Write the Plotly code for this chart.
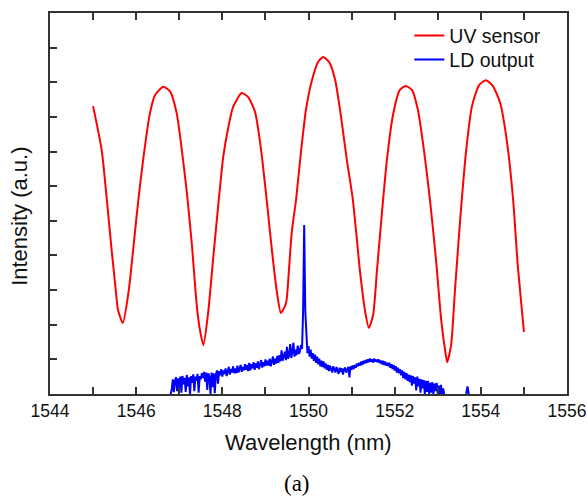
import plotly.graph_objects as go

# UV sensor (red) spectrum: wavelength (nm) and intensity (a.u.)
uv_wl = [1545.00, 1545.20, 1545.32, 1545.43, 1545.51, 1545.58, 1545.69, 1545.82, 1545.93, 1546.05,
         1546.17, 1546.32, 1546.44, 1546.63, 1546.79, 1546.94, 1547.06, 1547.17, 1547.29, 1547.41,
         1547.48, 1547.56, 1547.67, 1547.79, 1547.91, 1548.02, 1548.14, 1548.25, 1548.45, 1548.60,
         1548.76, 1548.90, 1549.03, 1549.15, 1549.26, 1549.36, 1549.48, 1549.53, 1549.61, 1549.71,
         1549.83, 1549.94, 1550.08, 1550.22, 1550.34, 1550.48, 1550.62, 1550.75, 1550.89, 1551.03,
         1551.20, 1551.31, 1551.40, 1551.50, 1551.59, 1551.71, 1551.82, 1551.96, 1552.12, 1552.26,
         1552.40, 1552.54, 1552.68, 1552.82, 1552.96, 1553.08, 1553.17, 1553.22, 1553.31, 1553.40,
         1553.52, 1553.66, 1553.80, 1553.96, 1554.12, 1554.28, 1554.45, 1554.61, 1554.75, 1554.86,
         1555.00]
uv_int = [8.31, 7.04, 5.60, 4.16, 3.20, 2.42, 2.05, 2.92, 4.16, 5.60,
          6.84, 8.11, 8.63, 8.87, 8.73, 8.11, 7.04, 5.89, 4.36, 2.51,
          1.85, 1.41, 2.34, 3.95, 5.51, 6.84, 7.71, 8.29, 8.69, 8.57,
          8.14, 7.04, 5.60, 4.16, 3.00, 2.34, 2.63, 3.29, 4.65, 5.60,
          7.04, 8.20, 9.06, 9.58, 9.73, 9.58, 9.06, 8.05, 6.76, 5.60,
          3.49, 2.42, 1.91, 2.28, 3.58, 5.31, 6.76, 8.05, 8.78, 8.89,
          8.78, 8.20, 7.04, 5.60, 3.87, 2.14, 1.27, 0.92, 1.41, 3.00,
          5.02, 7.04, 8.34, 8.92, 9.06, 8.89, 8.40, 7.25, 5.60, 3.67,
          1.79]

# LD output (blue) spectrum, sampled every 0.025 nm from 1546.800 nm
ld_start = 1546.80
ld_step = 0.025
ld_int = [
    0.00, 0.12, 0.42, 0.05, 0.38, 0.48, 0.08, 0.45, 0.18, 0.50,
    0.04, 0.52, 0.28, 0.47, 0.06, 0.55, 0.22, 0.48, 0.00, 0.52,
    0.32, 0.57, 0.08, 0.50, 0.38, 0.58, 0.04, 0.52, 0.42, 0.60,
    0.46, 0.64, 0.36, 0.62, 0.12, 0.60, 0.50, 0.00, 0.62, 0.20,
    0.60, 0.02, 0.56, 0.68, 0.30, 0.66, 0.54, 0.72, 0.50, 0.68,
    0.58, 0.74, 0.52, 0.70, 0.78, 0.56, 0.72, 0.62, 0.80, 0.60,
    0.74, 0.60, 0.82, 0.62, 0.76, 0.84, 0.64, 0.78, 0.68, 0.86,
    0.70, 0.84, 0.66, 0.90, 0.68, 0.86, 0.74, 0.92, 0.70, 0.88,
    0.76, 0.94, 0.72, 0.90, 0.98, 0.76, 0.92, 0.80, 1.00, 0.82,
    0.96, 0.82, 1.02, 0.80, 0.98, 1.08, 0.84, 1.02, 0.88, 1.10,
    0.90, 1.12, 0.94, 1.26, 0.96, 1.10, 1.22, 0.98, 1.36, 1.02,
    1.12, 1.44, 1.04, 1.22, 1.48, 1.08, 1.28, 1.12, 1.40, 1.16,
    1.22, 1.42, 1.30, 2.40,
    4.88,
    2.40, 1.55, 1.18, 1.38, 1.08, 1.28, 1.02,
    1.18, 0.96, 1.14, 0.90, 1.08, 0.86, 1.02, 0.80, 0.96, 0.78,
    0.94, 0.74, 0.88, 0.70, 0.84, 0.66, 0.82, 0.72, 0.62, 0.80,
    0.70, 0.62, 0.78, 0.66, 0.58, 0.76, 0.64, 0.74, 0.56, 0.72,
    0.76, 0.62, 0.74, 0.78, 0.48, 0.80, 0.70, 0.82, 0.72, 0.84,
    0.76, 0.88, 0.80, 0.90, 0.82, 0.94, 0.84, 0.96, 0.88, 0.98,
    0.90, 1.00, 0.92, 1.02, 0.93, 1.00, 0.91, 1.02, 0.94, 0.99,
    0.92, 1.00, 0.90, 0.97, 0.86, 0.96, 0.84, 0.94, 0.82, 0.90,
    0.80, 0.90, 0.76, 0.86, 0.72, 0.84, 0.68, 0.80, 0.62, 0.76,
    0.60, 0.72, 0.54, 0.68, 0.46, 0.64, 0.42, 0.60, 0.38, 0.56,
    0.34, 0.54, 0.24, 0.52, 0.30, 0.48, 0.10, 0.50, 0.22, 0.44,
    0.04, 0.42, 0.16, 0.40, 0.00, 0.38, 0.06, 0.38, 0.00, 0.32,
    0.04, 0.34, 0.00, 0.30, 0.08, 0.32, 0.00, 0.24, 0.00, 0.26,
    0.00, 0.16, 0.00,
]
ld_wl = [round(ld_start + i * ld_step, 3) for i in range(len(ld_int))]
# small isolated blip near 1553.7 nm
blip_wl = [1553.66, 1553.69, 1553.72]
blip_int = [0.00, 0.22, 0.00]
ld_wl_all = ld_wl + [None] + blip_wl
ld_int_all = ld_int + [None] + blip_int

x_ticks = list(range(1544, 1557))
x_labels = [str(v) if v % 2 == 0 else "" for v in x_ticks]
y_ticks = list(range(0, 12))

FONT = "Liberation Sans, Arial, sans-serif"
TXT = "#111111"
AX = "#333333"

fig = go.Figure()
fig.add_trace(go.Scatter(x=uv_wl, y=uv_int, mode="lines", name="UV sensor", legend="legend",
                         line=dict(color="#ff0000", width=2, shape="spline", smoothing=0.6)))
fig.add_trace(go.Scatter(x=ld_wl_all, y=ld_int_all, mode="lines", name="LD output", legend="legend2",
                         line=dict(color="#0000ff", width=2), connectgaps=False))

leg_common = dict(xanchor="left", yanchor="middle", bgcolor="rgba(0,0,0,0)", borderwidth=0,
                  font=dict(size=19.5, family=FONT, color=TXT))

fig.update_layout(
    template="none",
    width=587, height=496,
    margin=dict(l=50, r=20, t=13, b=102, autoexpand=False),
    paper_bgcolor="white", plot_bgcolor="white",
    font=dict(family=FONT, size=17, color=TXT),
    showlegend=True,
    legend=dict(x=0.695, y=0.940, **leg_common),
    legend2=dict(x=0.695, y=0.877, **leg_common),
    xaxis=dict(range=[1544, 1556], tickvals=x_ticks, ticktext=x_labels, automargin=False,
               ticks="inside", ticklen=7, tickwidth=1.5, tickcolor=AX,
               showline=True, linecolor=AX, linewidth=1.5, mirror="ticks",
               showgrid=False, zeroline=False,
               tickfont=dict(size=17.5, family=FONT, color=TXT)),
    yaxis=dict(range=[0, 11], tickvals=y_ticks, showticklabels=False, automargin=False,
               ticks="inside", ticklen=7, tickwidth=1.5, tickcolor=AX,
               showline=True, linecolor=AX, linewidth=1.5, mirror=True,
               showgrid=False, zeroline=False),
    annotations=[
        dict(text="Wavelength (nm)", xref="paper", yref="paper", x=0.5, y=-0.126,
             xanchor="center", yanchor="middle", showarrow=False,
             font=dict(size=22, family=FONT, color=TXT)),
        dict(text="Intensity (a.u.)", xref="paper", yref="paper", x=-0.058, y=0.465,
             xanchor="center", yanchor="middle", showarrow=False, textangle=-90,
             font=dict(size=22, family=FONT, color=TXT)),
        dict(text="(a)", xref="paper", yref="paper", x=0.478, y=-0.234,
             xanchor="center", yanchor="middle", showarrow=False,
             font=dict(size=23, family="Liberation Serif, Times New Roman, serif", color="#000000")),
    ],
)

fig.write_html("out.html")
